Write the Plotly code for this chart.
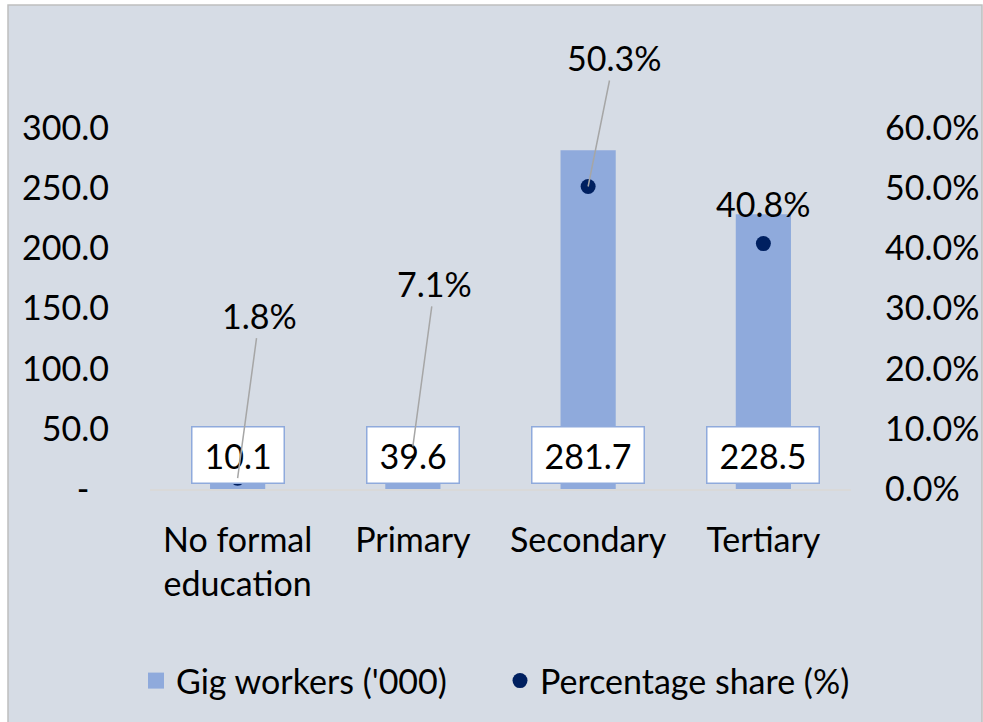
import plotly.graph_objects as go

categories = ["No formal<br>education", "Primary", "Secondary", "Tertiary"]
gig_workers = [10.1, 39.6, 281.7, 228.5]
pct_share = [1.8, 7.1, 50.3, 40.8]
left_tickvals = [0, 50, 100, 150, 200, 250, 300]
left_ticktext = ["-<span style='color:rgba(0,0,0,0)'>0</span>", "50.0", "100.0",
                 "150.0", "200.0", "250.0", "300.0"]
right_tickvals = [0, 10, 20, 30, 40, 50, 60]
right_ticktext = ["0.0%", "10.0%", "20.0%", "30.0%", "40.0%", "50.0%", "60.0%"]

FONT = "Lato"
FS = 34
BAR_C = "#8faadc"
DOT_C = "#002060"
BG = "#d6dce5"

# pixel offsets for percentage labels (label position relative to point)
pct_offsets = [(22, -163), (22, -163), (26, -129), (0, -40)]
pct_arrow = [True, True, True, False]

fig = go.Figure()
fig.add_trace(go.Bar(
    x=categories, y=gig_workers, name="Gig workers ('000)",
    marker=dict(color=BAR_C, line=dict(width=0)), width=0.315, yaxis="y",
    showlegend=False,
))
# legend entry for the bars (larger square symbol)
fig.add_trace(go.Scatter(
    x=[None], y=[None], name="Gig workers ('000)", mode="markers",
    marker=dict(color=BAR_C, size=16, symbol="square"), showlegend=True,
    legend="legend",
))
fig.add_trace(go.Scatter(
    x=categories, y=pct_share, name="Percentage share (%)", mode="markers",
    marker=dict(color=DOT_C, size=15), yaxis="y2", legend="legend2",
))

annotations = []
for c, v in zip(categories, gig_workers):
    annotations.append(dict(
        x=c, y=0, xref="x", yref="y", text=f"{v:.1f}", showarrow=False,
        yshift=34, yanchor="middle", xanchor="center",
        bgcolor="white", bordercolor=BAR_C, borderwidth=1.5, borderpad=12,
        height=31, font=dict(family=FONT, size=FS, color="black"),
    ))
for c, p, (ax, ay), arr in zip(categories, pct_share, pct_offsets, pct_arrow):
    if arr:
        annotations.append(dict(
            x=c, y=p, xref="x", yref="y2", text=f"{p:.1f}%", showarrow=True,
            ax=ax, ay=ay, arrowhead=0, arrowwidth=1.5, arrowcolor="#a6a6a6",
            standoff=0, startstandoff=0, borderpad=2,
            font=dict(family=FONT, size=FS, color="black"),
        ))
    else:
        annotations.append(dict(
            x=c, y=p, xref="x", yref="y2", text=f"{p:.1f}%", showarrow=False,
            yshift=-ay, xshift=ax,
            font=dict(family=FONT, size=FS, color="black"),
        ))

L, R, T, B = 150, 132, 68, 233
W, H = 983, 722
pw, ph = W - L - R, H - T - B

def px2x(px):
    return (px - L) / pw

def py2y(py):
    return (H - B - py) / ph

leg_common = dict(orientation="h", yanchor="middle", xanchor="left", y=py2y(681),
                  font=dict(family=FONT, size=FS, color="black"),
                  bgcolor="rgba(0,0,0,0)", itemsizing="trace")

fig.update_layout(
    width=W, height=H,
    margin=dict(l=L, r=R, t=T, b=B, autoexpand=False),
    paper_bgcolor="white", plot_bgcolor=BG,
    font=dict(family=FONT, size=FS, color="black"),
    showlegend=True,
    legend=dict(x=px2x(136), **leg_common),
    legend2=dict(x=px2x(500), **leg_common),
    xaxis=dict(showgrid=False, showline=True, linecolor="#d9d9d9", linewidth=1.5,
               ticks="", tickfont=dict(family=FONT, size=FS), ticklabelstandoff=20,
               zeroline=False),
    yaxis=dict(range=[0, 350], tickvals=left_tickvals, ticktext=left_ticktext,
               showgrid=False, zeroline=False, showline=False, ticks="",
               ticklabelstandoff=40, tickfont=dict(family=FONT, size=FS)),
    yaxis2=dict(range=[0, 70], tickvals=right_tickvals, ticktext=right_ticktext,
                overlaying="y", side="right", showgrid=False, zeroline=False,
                showline=False, ticks="", ticklabelstandoff=33,
                tickfont=dict(family=FONT, size=FS)),
    annotations=annotations,
    shapes=[dict(type="rect", xref="paper", yref="paper",
                 x0=px2x(8), x1=px2x(982), y0=py2y(740), y1=py2y(5),
                 fillcolor=BG, line=dict(color="#bfbfbf", width=1.5), layer="below")],
    bargap=0.6,
)

fig.write_html("out.html", config={"displayModeBar": False})
with open("out.html", "r", encoding="utf-8") as f:
    html = f.read()
html = html.replace("<head>", "<head><style>html,body{margin:0;padding:0;overflow:hidden;}</style>", 1)
with open("out.html", "w", encoding="utf-8") as f:
    f.write(html)
